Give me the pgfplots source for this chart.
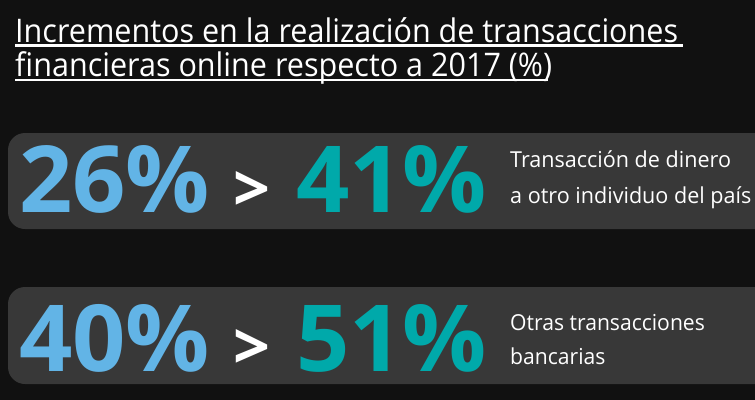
\documentclass[border=0pt]{standalone}
\usepackage{pgfplots}
\pgfplotsset{compat=1.18}
\usepackage{fontspec}
\setmainfont{Open Sans}[FakeStretch=0.94]
\newfontfamily\numfont{Open Sans}[FakeStretch=1.01]
\newfontfamily\descA{Open Sans}[FakeStretch=0.98]
\newfontfamily\descB{Open Sans}[FakeStretch=0.96]
\definecolor{bgc}{HTML}{111111}
\definecolor{panel}{HTML}{383838}
\definecolor{cblue}{HTML}{62B4E6}
\definecolor{cteal}{HTML}{00A9AA}
\begin{document}
\begin{tikzpicture}
\begin{axis}[scale only axis, width=755bp, height=400bp,
  xmin=0, xmax=755, ymin=0, ymax=400, y dir=reverse, hide axis,
  /pgf/number format/assume math mode=true]
% background and panels
\addplot[fill=bgc, draw=none] coordinates {(0,0) (755,0) (755,400) (0,400)} --cycle;
\addplot[fill=panel, draw=none, rounded corners=17bp] coordinates {(8,133) (800,133) (800,229) (8,229)} --cycle;
\addplot[fill=panel, draw=none, rounded corners=17bp] coordinates {(8,287) (800,287) (800,384) (8,384)} --cycle;
% title
\node[anchor=base west, inner sep=0pt, text=white, font=\fontsize{32.5bp}{32.5bp}\selectfont] at (axis cs:15,42) {Incrementos en la realización de transacciones};
\node[anchor=base west, inner sep=0pt, text=white, font=\fontsize{32.5bp}{32.5bp}\selectfont] at (axis cs:15,76) {financieras online respecto a 2017 (\%)};
\draw[white, line width=2.4bp] (axis cs:15,45.5) -- (axis cs:683,45.5);
\draw[white, line width=2.4bp] (axis cs:15,80) -- (axis cs:548,80);
% values 2017 (before)
\addplot[draw=none, mark=none, point meta=explicit,
  nodes near coords={\pgfmathprintnumber{\pgfplotspointmeta}\%},
  every node near coord/.append style={anchor=base west, inner sep=0pt, text=cblue,
    font=\numfont\bfseries\fontsize{92.5bp}{92.5bp}\selectfont,
    /pgf/number format/assume math mode=true}]
  coordinates {(19,212) [26] (19,371) [40]};
% values now (after)
\addplot[draw=none, mark=none, point meta=explicit,
  nodes near coords={\pgfmathprintnumber{\pgfplotspointmeta}\%},
  every node near coord/.append style={anchor=base west, inner sep=0pt, text=cteal,
    font=\numfont\bfseries\fontsize{92.5bp}{92.5bp}\selectfont,
    /pgf/number format/assume math mode=true}]
  coordinates {(296,212) [41] (296,371) [51]};
% arrows ">"
\node[anchor=base west, inner sep=0pt, text=white, font=\numfont\bfseries\fontsize{64bp}{64bp}\selectfont] at (axis cs:233,211) {>};
\node[anchor=base west, inner sep=0pt, text=white, font=\numfont\bfseries\fontsize{64bp}{64bp}\selectfont] at (axis cs:233,369) {>};
% descriptions
\node[anchor=base west, inner sep=0pt, text=white, font=\descA\fontsize{22bp}{22bp}\selectfont] at (axis cs:510,167) {Transacción de dinero};
\node[anchor=base west, inner sep=0pt, text=white, font=\descA\fontsize{22bp}{22bp}\selectfont] at (axis cs:510,203) {a otro individuo del país};
\node[anchor=base west, inner sep=0pt, text=white, font=\descB\fontsize{22bp}{22bp}\selectfont] at (axis cs:510,330) {Otras transacciones};
\node[anchor=base west, inner sep=0pt, text=white, font=\descB\fontsize{22bp}{22bp}\selectfont] at (axis cs:510,364) {bancarias};
\end{axis}
\end{tikzpicture}
\end{document}
